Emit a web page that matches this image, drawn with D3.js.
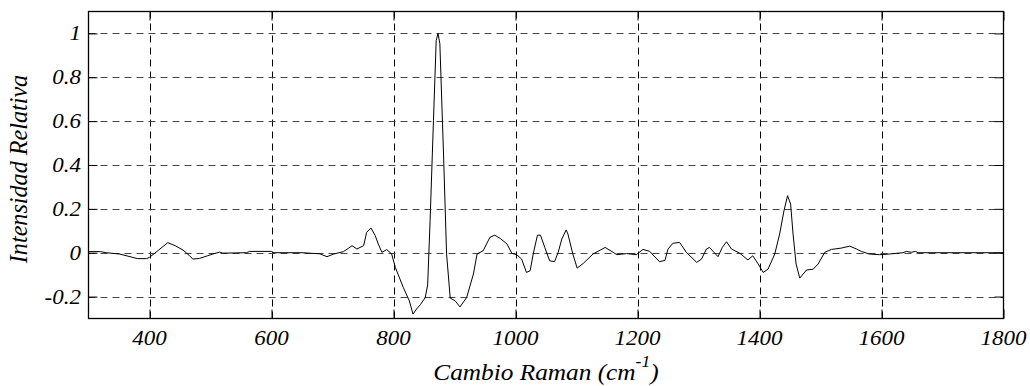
<!DOCTYPE html>
<html>
<head>
<meta charset="utf-8">
<script src="https://cdn.jsdelivr.net/npm/d3@7"></script>
<style>
  html, body { margin: 0; padding: 0; background: #fff; }
  svg { display: block; }
  text { font-family: "Liberation Serif", "Times New Roman", serif; font-style: italic; fill: #000; }
</style>
</head>
<body>
<svg id="chart" width="1030" height="386"></svg>
<script>
// Raman shift (cm^-1) and relative intensity of the spectrum
const ramanShift = [
  300, 320, 329, 351, 368, 380, 395, 400, 415, 430, 442, 455, 465, 471, 482, 495,
  504, 515, 520, 540, 559, 564, 600, 602, 650, 679, 691, 702, 718, 726, 732, 740,
  751, 756, 763, 770, 775, 781, 789, 797, 803, 816, 826, 832, 838, 844, 852, 856,
  860, 865.5, 870, 873, 876, 882, 887, 893, 901, 909, 920, 931, 937, 947, 958, 966,
  975, 986, 994, 1002, 1010, 1018, 1024, 1029, 1036, 1041, 1048, 1056, 1064, 1070,
  1076, 1083, 1086, 1094, 1101, 1111, 1127, 1147, 1160, 1166, 1182, 1198, 1209,
  1220, 1236, 1245, 1250, 1258, 1269, 1280, 1297, 1305, 1313, 1318, 1324, 1332,
  1339, 1346, 1354, 1368, 1381, 1389, 1398, 1406, 1414, 1425, 1433, 1440, 1446,
  1451, 1455, 1460, 1466, 1477, 1488, 1496, 1507, 1518, 1534, 1548, 1559, 1567,
  1580, 1597, 1613, 1635, 1641, 1649, 1656, 1660, 1800
];
const intensity = [
  0.005, 0.005, 0.0, -0.006, -0.018, -0.027, -0.027, -0.021, 0.012, 0.046, 0.032, 0.012, -0.012, -0.029, -0.026, -0.014,
  -0.006, 0.003, -0.002, -0.001, 0.0, 0.006, 0.006, 0.0, 0.0, -0.005, -0.018, -0.006, 0.005, 0.02, 0.032, 0.017,
  0.032, 0.093, 0.113, 0.078, 0.04, 0.002, 0.014, -0.006, -0.067, -0.158, -0.22, -0.28, -0.256, -0.237, -0.205, -0.147,
  0.146, 0.603, 0.968, 1.0, 0.953, 0.45, -0.005, -0.207, -0.219, -0.247, -0.204, -0.097, -0.006, 0.009, 0.07, 0.08,
  0.065, 0.04, -0.003, -0.009, -0.029, -0.09, -0.082, -0.006, 0.08, 0.08, 0.024, -0.037, -0.041, 0.002,
  0.063, 0.104, 0.085, -0.006, -0.07, -0.049, -0.006, 0.024, 0.002, -0.009, -0.004, -0.009, 0.015,
  0.006, -0.041, -0.035, 0.017, 0.043, 0.047, 0.002, -0.044, -0.029, 0.017, 0.024, 0.006, -0.018,
  0.024, 0.05, 0.017, -0.003, -0.033, -0.014, -0.052, -0.09, -0.075, -0.006, 0.085, 0.19, 0.26,
  0.222, 0.085, -0.052, -0.116, -0.079, -0.075, -0.052, 0.002, 0.015, 0.021, 0.03, 0.017, 0.006,
  -0.006, -0.009, -0.006, 0.0, 0.006, 0.002, 0.006, 0.0, 0.0
];

// Axis ticks and titles
const xTicks = [400, 600, 800, 1000, 1200, 1400, 1600, 1800];
const yTicks = [-0.2, 0, 0.2, 0.4, 0.6, 0.8, 1];
const xTitle = "Cambio Raman (cm";
const xTitleSup = "-1";
const yTitle = "Intensidad Relativa";

const svg = d3.select("#chart");
const plotL = 88.5, plotR = 1003.5, plotT = 11.5, plotB = 318.5;

const x = d3.scaleLinear().domain([300, 1800]).range([plotL, plotR]);
const y = d3.scaleLinear().domain([-0.3, 1.1]).range([plotB, plotT]);

const grid = svg.append("g");
// vertical dashed gridlines
grid.selectAll("line.vx")
  .data(xTicks.filter(d => d < 1800))
  .join("line")
  .attr("x1", d => Math.round(x(d)) + 0.5).attr("x2", d => Math.round(x(d)) + 0.5)
  .attr("y1", plotT).attr("y2", plotB)
  .attr("stroke", "#000").attr("stroke-width", 1)
  .attr("stroke-dasharray", "7,5");
// horizontal dashed gridlines
grid.selectAll("line.hy")
  .data(yTicks)
  .join("line")
  .attr("x1", plotL).attr("x2", plotR)
  .attr("y1", d => Math.round(y(d)) + 0.5).attr("y2", d => Math.round(y(d)) + 0.5)
  .attr("stroke", "#444").attr("stroke-width", 1)
  .attr("stroke-dasharray", "7,5");

// spectrum line
const pts = ramanShift.map((v, i) => [v, intensity[i]]);
svg.append("path")
  .datum(pts)
  .attr("fill", "none")
  .attr("stroke", "#000")
  .attr("stroke-width", 1)
  .attr("stroke-linejoin", "round")
  .attr("d", d3.line().x(d => x(d[0])).y(d => y(d[1])));

// inward ticks on all four sides
const tickLen = 9;
const axes = svg.append("g");
axes.append("g")
  .attr("transform", `translate(0,${plotB})`)
  .call(d3.axisBottom(x).tickValues(xTicks).tickSizeInner(-tickLen).tickSizeOuter(0).tickFormat(""))
  .call(g => g.select(".domain").remove());
axes.append("g")
  .attr("transform", `translate(0,${plotT})`)
  .call(d3.axisTop(x).tickValues(xTicks).tickSizeInner(-tickLen).tickSizeOuter(0).tickFormat(""))
  .call(g => g.select(".domain").remove());
axes.append("g")
  .attr("transform", `translate(${plotL},0)`)
  .call(d3.axisLeft(y).tickValues(yTicks).tickSizeInner(-tickLen).tickSizeOuter(0).tickFormat(""))
  .call(g => g.select(".domain").remove());
axes.append("g")
  .attr("transform", `translate(${plotR},0)`)
  .call(d3.axisRight(y).tickValues(yTicks).tickSizeInner(-tickLen).tickSizeOuter(0).tickFormat(""))
  .call(g => g.select(".domain").remove());
axes.selectAll(".tick line").attr("stroke", "#000").attr("stroke-width", 1);

// frame
svg.append("rect")
  .attr("x", plotL).attr("y", plotT)
  .attr("width", plotR - plotL).attr("height", plotB - plotT)
  .attr("fill", "none").attr("stroke", "#000").attr("stroke-width", 1.3);

// tick labels (slightly wide type)
const xFmt = d3.format("d");
svg.append("g").selectAll("text")
  .data(xTicks)
  .join("text")
  .attr("transform", d => `translate(${x(d)},345) scale(1.15,1)`)
  .attr("text-anchor", "middle")
  .attr("font-size", 20)
  .text(d => xFmt(d));

const yFmt = d => String(+d.toFixed(1));
svg.append("g").selectAll("text")
  .data(yTicks)
  .join("text")
  .attr("transform", d => `translate(81,${y(d) + 7}) scale(1.15,1)`)
  .attr("text-anchor", "end")
  .attr("font-size", 20)
  .text(d => yFmt(d));

// axis titles
const xt = svg.append("text")
  .attr("transform", "translate(546,380) scale(1.1,1)")
  .attr("text-anchor", "middle")
  .attr("font-size", 23);
xt.append("tspan").text(xTitle);
xt.append("tspan").attr("font-size", 16).attr("dy", -13).text(xTitleSup);
xt.append("tspan").attr("dy", 13).text(")");

svg.append("text")
  .attr("transform", `translate(27,${(plotT + plotB) / 2 + 4}) rotate(-90) scale(1.05,1.1)`)
  .attr("text-anchor", "middle")
  .attr("font-size", 23)
  .text(yTitle);
</script>
</body>
</html>
